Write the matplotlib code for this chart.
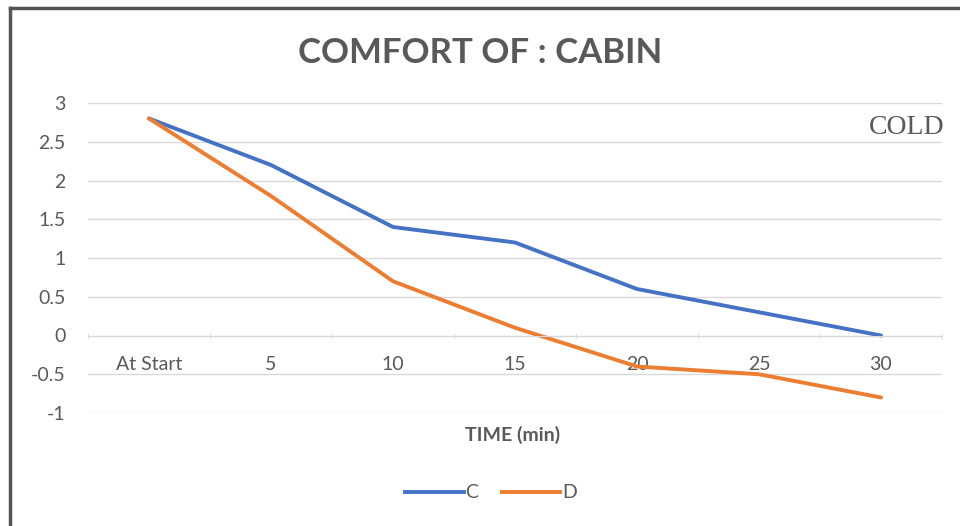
import matplotlib
matplotlib.use('Agg')
import matplotlib.pyplot as plt
from matplotlib.lines import Line2D

# data
categories = ['At Start', '5', '10', '15', '20', '25', '30']
c_values = [2.8, 2.2, 1.4, 1.2, 0.6, 0.3, 0.0]
d_values = [2.8, 1.8, 0.7, 0.1, -0.4, -0.5, -0.8]
y_ticks = [-1, -0.5, 0, 0.5, 1, 1.5, 2, 2.5, 3]

plt.rcParams['font.family'] = ['Lato', 'DejaVu Sans']
grey = '#595959'

fig = plt.figure(figsize=(9.6, 5.26), dpi=100)
ax = fig.add_axes([88 / 960, 1 - 413 / 526, (942 - 88) / 960, (413 - 103) / 526])

x = list(range(len(categories)))
ax.plot(x, c_values, color='#4472C4', lw=2.8, label='C', solid_capstyle='round')
ax.plot(x, d_values, color='#ED7D31', lw=2.8, label='D', solid_capstyle='round')

ax.set_xlim(-0.5, len(categories) - 0.5)
ax.set_ylim(-1, 3)
ax.set_yticks(y_ticks)
ax.set_yticklabels(['-1', '-0.5', '0', '0.5', '1', '1.5', '2', '2.5', '3'])
ax.tick_params(axis='y', length=0, pad=16, labelsize=14, labelcolor=grey)

# category axis crosses at 0
ax.spines['bottom'].set_position(('data', 0))
ax.spines['bottom'].set_color('#d9d9d9')
for s in ['top', 'right', 'left']:
    ax.spines[s].set_visible(False)
ax.set_xticks(x)
ax.set_xticklabels(categories)
ax.tick_params(axis='x', which='major', length=0, pad=15, labelsize=14, labelcolor=grey)
ax.set_xticks([i + 0.5 for i in x[:-1]] + [-0.5, len(categories) - 0.5], minor=True)
ax.tick_params(axis='x', which='minor', length=4, color='#d9d9d9', direction='inout')

ax.grid(True, 'major', 'y', color='#d9d9d9', lw=1)
ax.set_axisbelow(True)

fig.text(0.5, 1 - 53 / 526, 'COMFORT OF : CABIN', ha='center', va='center',
         fontsize=25, fontweight='bold', color=grey)
fig.text(945 / 960, 1 - 127 / 526, 'COLD', ha='right', va='center',
         fontsize=20, color=grey, family='Liberation Serif')
fig.text(513 / 960, 1 - 435 / 526, 'TIME (min)', ha='center', va='center',
         fontsize=14, fontweight='bold', color=grey)

handles = [Line2D([], [], color='#4472C4', lw=2.8),
           Line2D([], [], color='#ED7D31', lw=2.8)]
fig.legend(handles, ['C', 'D'], loc='center', bbox_to_anchor=(491 / 960, 1 - 493 / 526),
           ncol=2, frameon=False, fontsize=14, labelcolor=grey,
           handlelength=3, handletextpad=0.1, columnspacing=1.2)

# outer frame (cropped on right and bottom)
fig.add_artist(Line2D([10 / 960, 10 / 960], [0, 1 - 8 / 526], color='#555555', lw=2.5))
fig.add_artist(Line2D([10 / 960, 1], [1 - 8 / 526, 1 - 8 / 526], color='#555555', lw=2.5))

fig.savefig('out.png', dpi=100)
